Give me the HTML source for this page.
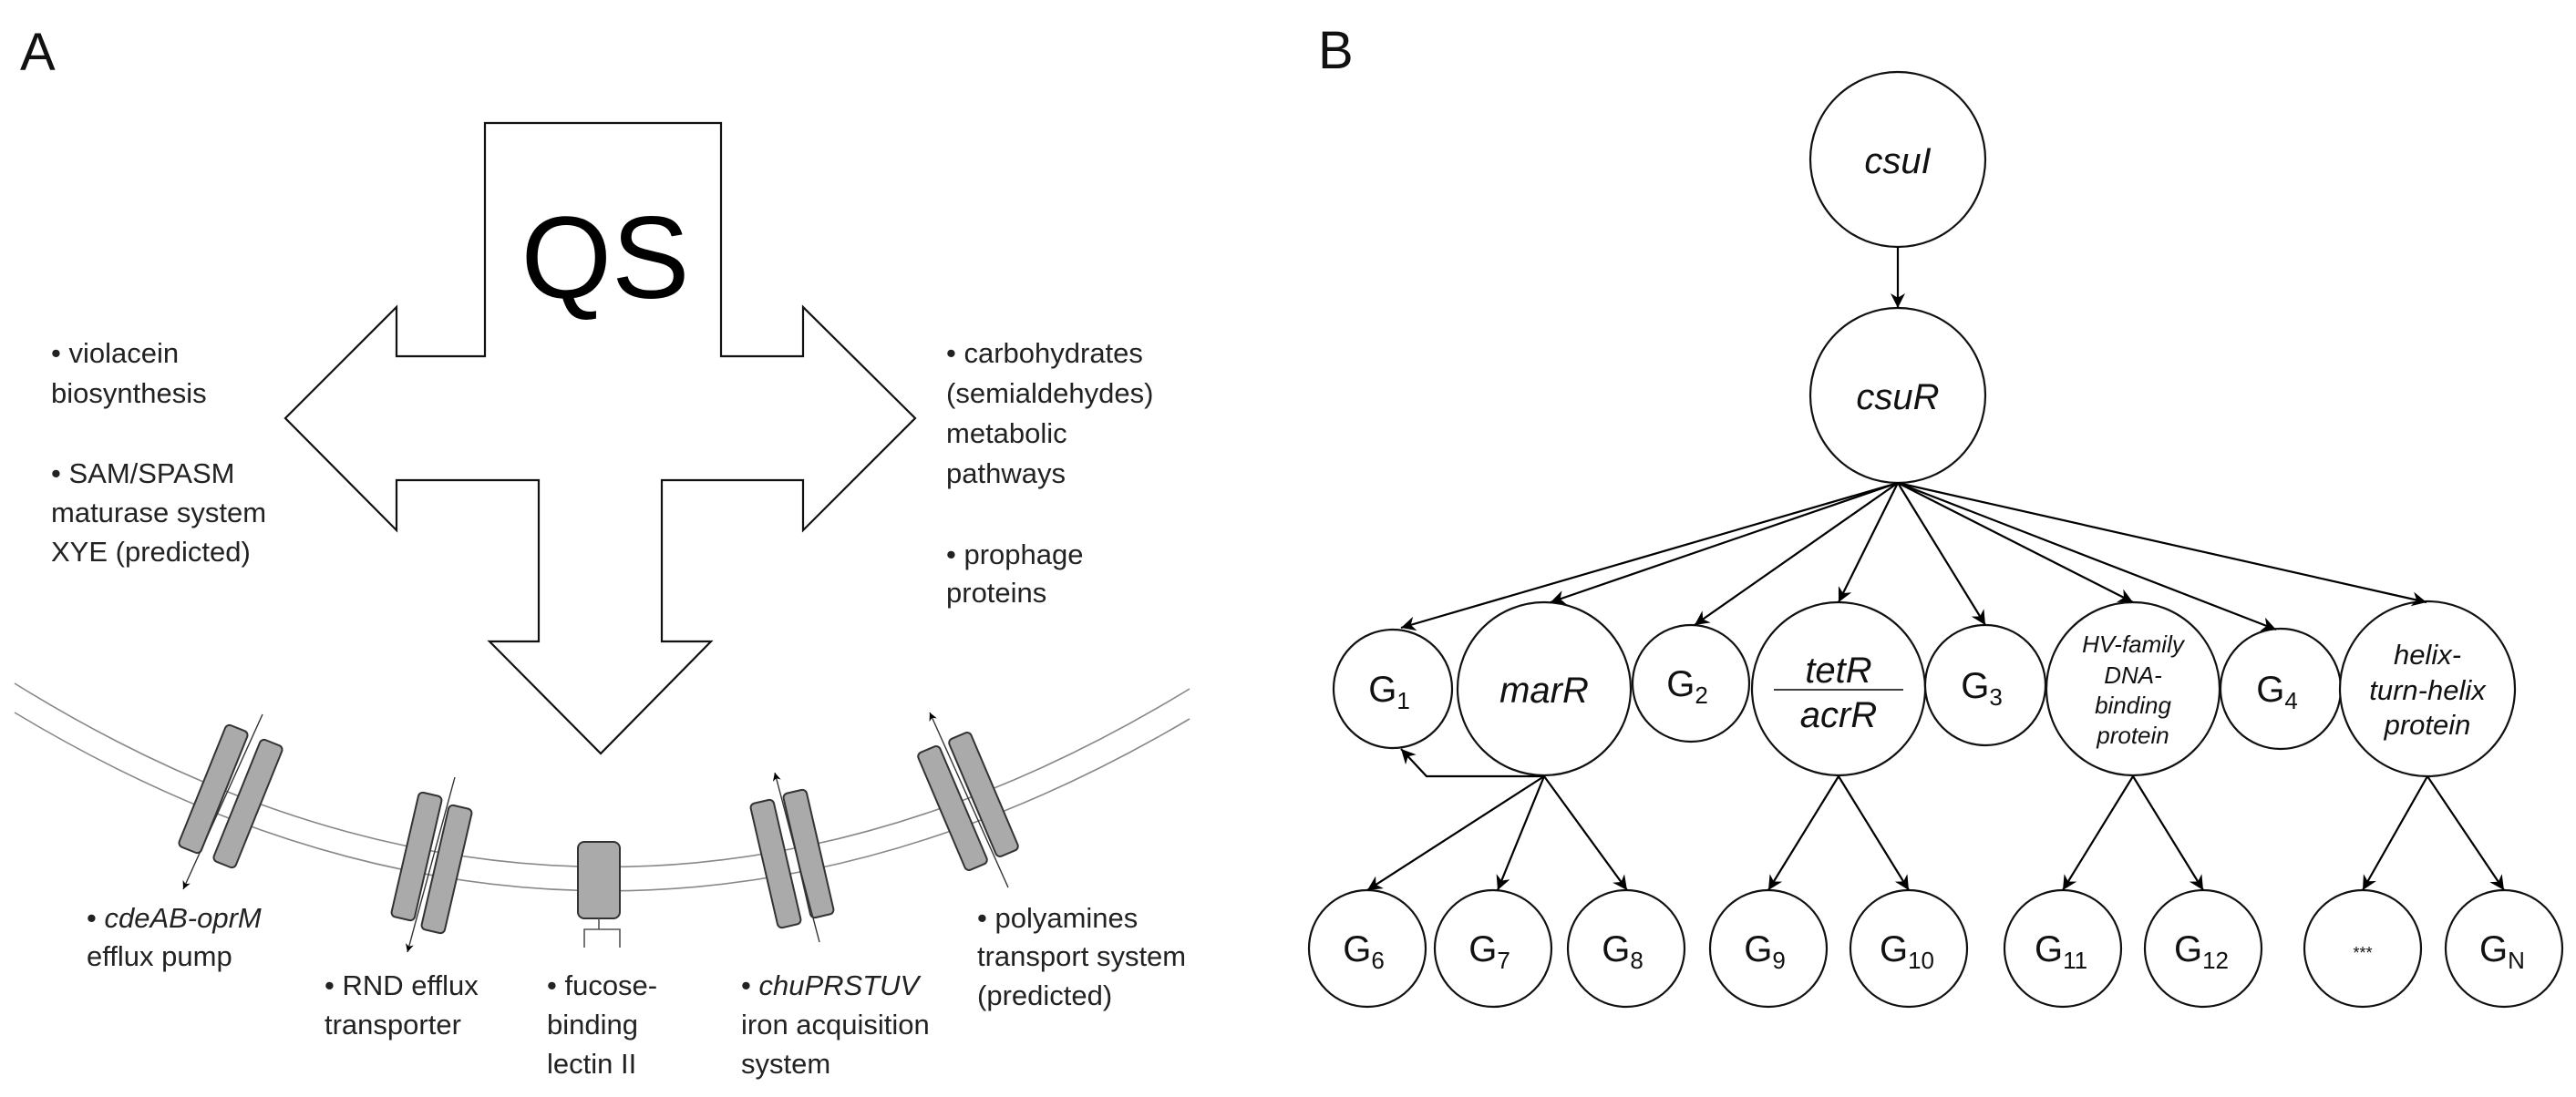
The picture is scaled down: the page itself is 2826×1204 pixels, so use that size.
<!DOCTYPE html>
<html><head><meta charset="utf-8"><style>
html,body{margin:0;padding:0;background:#fff}
svg{display:block}
.ta{font-family:"Liberation Sans",sans-serif;font-size:31px;fill:#222}
.tb{font-family:"Liberation Sans",sans-serif;fill:#111}
</style></head><body>
<svg width="2826" height="1204" viewBox="0 0 2826 1204" xmlns="http://www.w3.org/2000/svg">
<defs>
<marker id="ar" viewBox="0 0 10 10" refX="10" refY="5" markerWidth="9" markerHeight="9" markerUnits="userSpaceOnUse" orient="auto">
<path d="M0,0 L10,5 L0,10 L3,5 z" fill="#000"/></marker>
<marker id="ab" viewBox="0 0 10 10" refX="10" refY="5" markerWidth="16" markerHeight="16" markerUnits="userSpaceOnUse" orient="auto">
<path d="M0,0 L10,5 L0,10 L3,5 z" fill="#000"/></marker>
</defs>

<!-- Panel A -->
<text x="22" y="77" style="font-family:'Liberation Sans',sans-serif;font-size:58px" fill="#111">A</text>
<path d="M532,135 L791,135 L791,391 L881,391 L881,337 L1004,459 L881,582 L881,527 L726,527 L726,704 L780,704 L659,827 L537,704 L591,704 L591,527 L435,527 L435,582 L313,459 L435,337 L435,391 L532,391 Z" fill="#fff" stroke="#111" stroke-width="2.2"/>
<text x="664" y="327" text-anchor="middle" style="font-family:'Liberation Sans',sans-serif;font-size:128px" fill="#000">QS</text>

<text class="ta" x="56" y="398">• violacein</text>
<text class="ta" x="56" y="442">biosynthesis</text>
<text class="ta" x="56" y="530">• SAM/SPASM</text>
<text class="ta" x="56" y="573">maturase system</text>
<text class="ta" x="56" y="616">XYE (predicted)</text>
<text class="ta" x="1038" y="398">• carbohydrates</text>
<text class="ta" x="1038" y="442">(semialdehydes)</text>
<text class="ta" x="1038" y="486">metabolic</text>
<text class="ta" x="1038" y="530">pathways</text>
<text class="ta" x="1038" y="619">• prophage</text>
<text class="ta" x="1038" y="661">proteins</text>

<!-- membrane -->
<path d="M16,750 Q660,1150 1305,756" fill="none" stroke="#888" stroke-width="1.6"/>
<path d="M16,782 Q660,1170 1305,789" fill="none" stroke="#888" stroke-width="1.6"/>

<g fill="#aaa" stroke="#333" stroke-width="2">
<rect x="-13" y="-72" width="26" height="144" rx="5" transform="translate(234,866) rotate(22)"/>
<rect x="-13" y="-72" width="26" height="144" rx="5" transform="translate(272,882) rotate(22)"/>
<rect x="-13" y="-70" width="26" height="140" rx="5" transform="translate(457,940) rotate(13)"/>
<rect x="-13" y="-70" width="26" height="140" rx="5" transform="translate(490,954) rotate(13)"/>
<rect x="634" y="924" width="46" height="84" rx="7"/>
<rect x="-13" y="-70" width="26" height="140" rx="5" transform="translate(851,948) rotate(-13)"/>
<rect x="-13" y="-70" width="26" height="140" rx="5" transform="translate(887,937) rotate(-13)"/>
<rect x="-13" y="-70" width="26" height="140" rx="5" transform="translate(1045,887) rotate(-23)"/>
<rect x="-13" y="-70" width="26" height="140" rx="5" transform="translate(1079,872) rotate(-23)"/>
</g>
<path d="M657,1008 L657,1020 M641,1040 L641,1020 L680,1020 L680,1040" fill="none" stroke="#555" stroke-width="1.6"/>
<g stroke="#333" stroke-width="1.4" fill="none">
<line x1="288" y1="784" x2="201" y2="976" marker-end="url(#ar)"/>
<line x1="499" y1="853" x2="447" y2="1045" marker-end="url(#ar)"/>
<line x1="899" y1="1034" x2="850" y2="848" marker-end="url(#ar)"/>
<line x1="1106" y1="974" x2="1020" y2="782" marker-end="url(#ar)"/>
</g>

<text class="ta" x="95" y="1018">• <tspan font-style="italic">cdeAB-oprM</tspan></text>
<text class="ta" x="95" y="1060">efflux pump</text>
<text class="ta" x="356" y="1092">• RND efflux</text>
<text class="ta" x="356" y="1135">transporter</text>
<text class="ta" x="600" y="1092">• fucose-</text>
<text class="ta" x="600" y="1135">binding</text>
<text class="ta" x="600" y="1178">lectin II</text>
<text class="ta" x="813" y="1092">• <tspan font-style="italic">chuPRSTUV</tspan></text>
<text class="ta" x="813" y="1135">iron acquisition</text>
<text class="ta" x="813" y="1178">system</text>
<text class="ta" x="1072" y="1018">• polyamines</text>
<text class="ta" x="1072" y="1060">transport system</text>
<text class="ta" x="1072" y="1103">(predicted)</text>

<!-- Panel B -->
<text x="1446" y="75" style="font-family:'Liberation Sans',sans-serif;font-size:58px" fill="#111">B</text>
<g fill="#fff" stroke="#111" stroke-width="2.2">
<circle cx="2082" cy="175" r="96"/>
<circle cx="2082" cy="434" r="96"/>
<circle cx="1528" cy="756" r="65"/>
<circle cx="1694" cy="756" r="95"/>
<circle cx="1855" cy="750" r="64"/>
<circle cx="2017" cy="756" r="95"/>
<circle cx="2178" cy="752" r="66"/>
<circle cx="2340" cy="756" r="95"/>
<circle cx="2502" cy="756" r="66"/>
<circle cx="2663" cy="756" r="96"/>
<circle cx="1500" cy="1041" r="64"/>
<circle cx="1638" cy="1041" r="64"/>
<circle cx="1784" cy="1041" r="64"/>
<circle cx="1940" cy="1041" r="64"/>
<circle cx="2094" cy="1041" r="64"/>
<circle cx="2263" cy="1041" r="64"/>
<circle cx="2417" cy="1041" r="64"/>
<circle cx="2592" cy="1041" r="64"/>
<circle cx="2747" cy="1041" r="64"/>
</g>
<g stroke="#000" stroke-width="2.2" fill="none" marker-end="url(#ab)">
<line x1="2082" y1="271" x2="2082" y2="338"/>
<line x1="2082" y1="530" x2="1537" y2="689"/>
<line x1="2082" y1="530" x2="1701" y2="661"/>
<line x1="2082" y1="530" x2="1859" y2="686"/>
<line x1="2082" y1="530" x2="2017" y2="661"/>
<line x1="2082" y1="530" x2="2178" y2="686"/>
<line x1="2082" y1="530" x2="2340" y2="661"/>
<line x1="2082" y1="530" x2="2497" y2="691"/>
<line x1="2082" y1="530" x2="2662" y2="661"/>
<polyline points="1694,852 1565,852 1537,822"/>
<line x1="1694" y1="852" x2="1500" y2="977"/>
<line x1="1694" y1="852" x2="1643" y2="977"/>
<line x1="1694" y1="852" x2="1785" y2="977"/>
<line x1="2017" y1="852" x2="1940" y2="977"/>
<line x1="2017" y1="852" x2="2094" y2="977"/>
<line x1="2340" y1="852" x2="2263" y2="977"/>
<line x1="2340" y1="852" x2="2417" y2="977"/>
<line x1="2663" y1="852" x2="2592" y2="977"/>
<line x1="2663" y1="852" x2="2747" y2="977"/>
</g>
<line x1="1946" y1="757" x2="2088" y2="757" stroke="#000" stroke-width="1.6"/>

<g class="tb" style="font-size:40px" text-anchor="middle">
<text x="2082" y="190" font-style="italic">csuI</text>
<text x="2082" y="449" font-style="italic">csuR</text>
<text x="1694" y="771" font-style="italic">marR</text>
<text x="2017" y="749" font-style="italic">tetR</text>
<text x="2017" y="798" font-style="italic">acrR</text>
<text x="1524" y="770">G<tspan font-size="26" dy="8">1</tspan></text>
<text x="1851" y="764">G<tspan font-size="26" dy="8">2</tspan></text>
<text x="2174" y="766">G<tspan font-size="26" dy="8">3</tspan></text>
<text x="2498" y="770">G<tspan font-size="26" dy="8">4</tspan></text>
<text x="1496" y="1055">G<tspan font-size="26" dy="8">6</tspan></text>
<text x="1634" y="1055">G<tspan font-size="26" dy="8">7</tspan></text>
<text x="1780" y="1055">G<tspan font-size="26" dy="8">8</tspan></text>
<text x="1936" y="1055">G<tspan font-size="26" dy="8">9</tspan></text>
<text x="2092" y="1055">G<tspan font-size="26" dy="8">10</tspan></text>
<text x="2261" y="1055">G<tspan font-size="26" dy="8">11</tspan></text>
<text x="2415" y="1055">G<tspan font-size="26" dy="8">12</tspan></text>
<text x="2745" y="1055">G<tspan font-size="26" dy="8">N</tspan></text>
<text x="2592" y="1052" font-size="18">***</text>
</g>
<g class="tb" style="font-size:26px" text-anchor="middle" font-style="italic">
<text x="2340" y="716">HV-family</text>
<text x="2340" y="750">DNA-</text>
<text x="2340" y="783">binding</text>
<text x="2340" y="816">protein</text>
</g>
<g class="tb" style="font-size:31px" text-anchor="middle" font-style="italic">
<text x="2663" y="729">helix-</text>
<text x="2663" y="768">turn-helix</text>
<text x="2663" y="806">protein</text>
</g>
</svg>
</body></html>
